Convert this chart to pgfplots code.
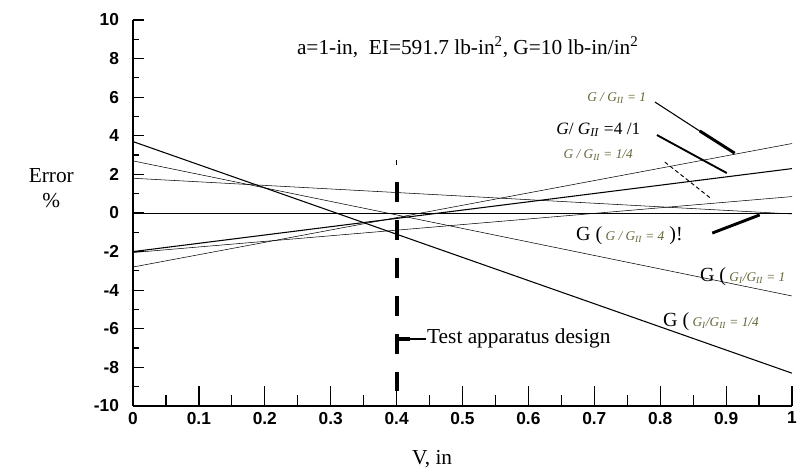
\documentclass[border=0pt]{standalone}
\usepackage{fontspec}
\setmainfont{Liberation Serif}
\newfontfamily\ticksf{Liberation Sans}
\usepackage{pgfplots}
\pgfplotsset{compat=1.18}
\definecolor{olv}{RGB}{100,100,55}
\newcommand{\sm}{\fontsize{10}{10}\selectfont\itshape}
\begin{document}
\begin{tikzpicture}
\begin{axis}[
 at={(0,0)}, anchor=south west,
 scale only axis, width=494.25pt, height=289.5pt,
 xmin=0, xmax=1, ymin=-10, ymax=10,
 axis x line=bottom, axis y line=left,
 axis line style={-, line width=1.1pt},
 xtick={0,0.1,0.2,0.3,0.4,0.5,0.6,0.7,0.8,0.9,1},
 xticklabels={0,0.1,0.2,0.3,0.4,0.5,0.6,0.7,0.8,0.9,1},
 ytick={-10,-8,-6,-4,-2,0,2,4,6,8,10},
 minor x tick num=1, minor y tick num=1,
 tick align=inside,
 major tick length=15pt, minor tick length=8pt,
 xtick style={line width=0.9pt, black},
 ytick style={line width=0.9pt, black, xscale=0.55},
 /pgf/number format/assume math mode=true,
 ticklabel style={font=\ticksf\bfseries\fontsize{13}{13}\selectfont},
 xticklabel style={yshift=-1pt},
 yticklabel style={xshift=-7pt},
 clip=false,
 cycle list={{black, line width=0.8pt, mark=none}},
]
\addplot coordinates {(0,0) (1,0)};
\addplot coordinates {(0,3.7) (1,-8.3)};
\addplot coordinates {(0,2.7) (1,-4.3)};
\addplot coordinates {(0,1.8) (1,-0.05)};
\addplot coordinates {(0,-2.0) (1,2.3)};
\addplot coordinates {(0,-2.05) (1,0.85)};
\addplot coordinates {(0,-2.8) (1,3.6)};
% test apparatus design line
\addplot[black, mark=none, line width=3pt, dash pattern=on 15pt off 13.5pt] coordinates {(0.4,1.6) (0.4,-9.2)};
\addplot[black, mark=none, line width=1pt] coordinates {(0.4,2.75) (0.4,2.5)};

% title
\node at (axis cs:0.508,8.6) {\fontsize{16}{16}\selectfont a=1-in,\ \ EI=591.7 lb-in\textsuperscript{2}, G=10 lb-in/in\textsuperscript{2}};
% y label
\node[align=center, font=\fontsize{16}{19}\selectfont] at (axis cs:-0.124,1.3) {Error\\\%};
% x label
\node[font=\fontsize{16}{16}\selectfont] at (axis cs:0.454,-12.75) {V, in};

% test apparatus label
\draw[line width=3pt] (axis cs:0.4,-6.53) -- (axis cs:0.42,-6.53);
\draw[line width=0.8pt] (axis cs:0.42,-6.53) -- (axis cs:0.445,-6.53);
\node[anchor=west, inner sep=0pt, font=\fontsize{16}{16}\selectfont] at (axis cs:0.446,-6.5) {Test apparatus design};

% G/GII=1
\node[text=olv, font=\sm] at (axis cs:0.734,5.96) {G / G\textsubscript{II} = 1};
\draw[line width=0.8pt] (axis cs:0.792,5.75) -- (axis cs:0.876,3.89);
\draw[line width=2.2pt] (axis cs:0.86,4.25) -- (axis cs:0.913,3.1);
% G/GII=4/1
\node[font=\fontsize{13}{13}\selectfont] at (axis cs:0.706,4.3) {\textit{G}/ \textit{G}\textsubscript{\textit{II}} =4 /1};
\draw[line width=1.4pt] (axis cs:0.795,4.04) -- (axis cs:0.901,2.07);
% G/GII=1/4
\node[text=olv, font=\sm] at (axis cs:0.706,3.0) {G / G\textsubscript{II} = 1/4};
\draw[line width=0.7pt, densely dashed] (axis cs:0.807,2.64) -- (axis cs:0.876,0.78);
% G(G/GII=4)
\node[anchor=west, inner sep=0pt] at (axis cs:0.672,-1.19) {\fontsize{15}{15}\selectfont G (\,{\color{olv}\sm G / G\textsubscript{II} = 4} )!};
\draw[line width=2.2pt] (axis cs:0.879,-1.04) -- (axis cs:0.951,-0.1);
% G(GI/GII=1)
\node[anchor=west, inner sep=0pt] at (axis cs:0.86,-3.3) {\fontsize{15}{15}\selectfont G (\,{\color{olv}\sm G\textsubscript{I}/G\textsubscript{II} = 1}};
% G(GI/GII=1/4)
\node[anchor=west, inner sep=0pt] at (axis cs:0.804,-5.65) {\fontsize{15}{15}\selectfont G (\,{\color{olv}\sm G\textsubscript{I}/G\textsubscript{II} = 1/4}};
\end{axis}
\pgfresetboundingbox
\useasboundingbox (-99.75pt,-50.25pt) rectangle (504.75pt,304.5pt);
\end{tikzpicture}
\end{document}
